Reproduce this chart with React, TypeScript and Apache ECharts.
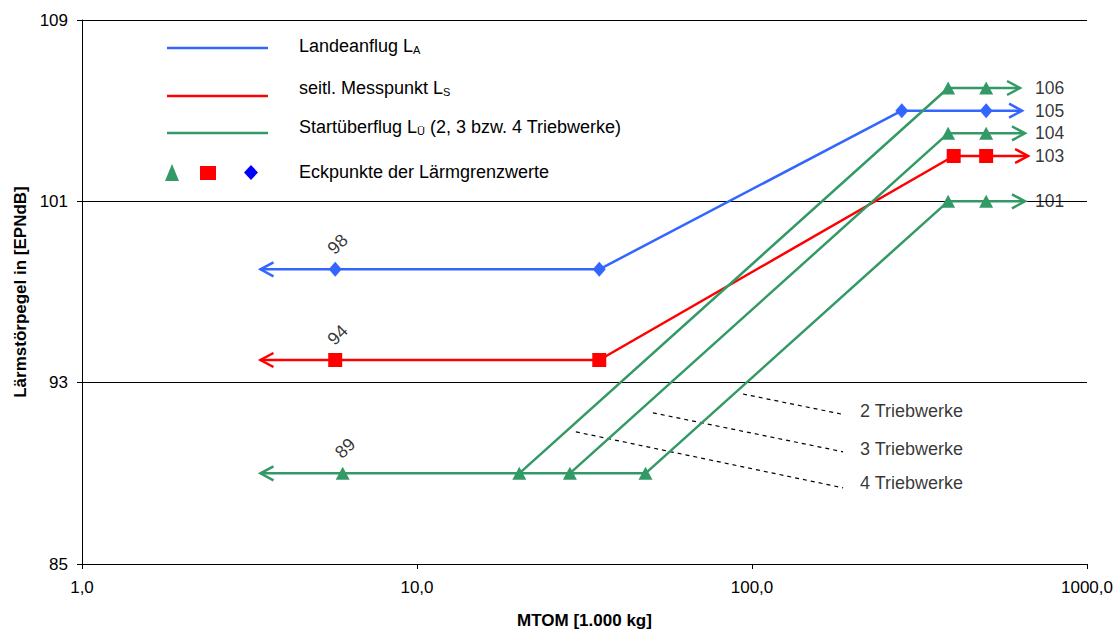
import React, { useEffect, useRef } from 'react';
import * as echarts from 'echarts';

const FONT = '"Liberation Sans", Arial, sans-serif';
const BLUE = '#3366FF';
const RED = '#FF0000';
const GREEN = '#339966';

const xTickMin = 1;
const xTickMax = 1000;
const yTicks = [85, 93, 101, 109];
const gridLevels = [93, 101, 109];

const landingLine = [[3.41, 98], [35, 98], [280, 105], [640, 105]];
const landingPoints = [[5.7, 98], [35, 98], [280, 105], [500, 105]];
const landingArrows = [[3.41, 98, -1], [640, 105, 1]];

const lateralLine = [[3.41, 94], [35, 94], [400, 103], [667, 103]];
const lateralPoints = [[5.7, 94], [35, 94], [400, 103], [500, 103]];
const lateralArrows = [[3.41, 94, -1], [667, 103, 1]];

const flyoverBase = [[3.41, 89], [48.1, 89]];
const flyover4 = [[20.2, 89], [385, 106], [631, 106]];
const flyover3 = [[28.6, 89], [385, 104], [653, 104]];
const flyover2 = [[48.1, 89], [385, 101], [653, 101]];
const flyoverPoints = [[6.0, 89], [20.2, 89], [28.6, 89], [48.1, 89], [385, 106], [500, 106], [385, 104], [500, 104], [385, 101], [500, 101]];
const flyoverArrows = [[3.41, 89, -1], [631, 106, 1], [653, 104, 1], [653, 101, 1]];

const lowLabels = [[5.7, 98], [5.7, 94], [6.0, 89]];
const highLabelX = 700;
const highLabels = [106, 105, 104, 103, 101];

const engineNames = ['2 Triebwerke', '3 Triebwerke', '4 Triebwerke'];
const engineLeaders = [
  [[94, 92.5], [187, 91.6]],
  [[50.6, 91.67], [187, 89.95]],
  [[29.8, 90.83], [187, 88.36]],
];
const engineLabelPos = [[210, 91.76], [210, 90.08], [210, 88.58]];

const arrowRender = (color: string) => (params: any, api: any) => {
  const p = api.coord([api.value(0), api.value(1)]);
  const d = api.value(2);
  return {
    type: 'polyline',
    shape: { points: [[p[0] - 13 * d, p[1] - 7], [p[0], p[1]], [p[0] - 13 * d, p[1] + 7]] },
    style: { stroke: color, lineWidth: 2.5, fill: 'none' },
  };
};

const lineSeries = (data: number[][], color: string, extra: any = {}) => ({
  type: 'line',
  data,
  symbol: 'none',
  lineStyle: { color, width: 2.5 },
  z: 3,
  silent: true,
  ...extra,
});

export default function App() {
  const ref = useRef<HTMLDivElement>(null);
  useEffect(() => {
    if (!ref.current) return;
    const chart = echarts.init(ref.current, null, { renderer: 'svg' });
    const sub = (main: string, s: string, rest = '') => ({
      text: `{a|${main}}{s|${s}}` + (rest ? `{a|${rest}}` : ''),
      rich: {
        a: { fontSize: 18, fontFamily: FONT, lineHeight: 22, verticalAlign: 'bottom', fill: '#000' },
        s: { fontSize: 11, fontFamily: FONT, lineHeight: 12, verticalAlign: 'bottom', fill: '#000' },
      },
    });
    const option: any = {
      animation: false,
      textStyle: { fontFamily: FONT },
      grid: { left: 82, right: 32, top: 20, bottom: 66, containLabel: false, outerBoundsMode: 'none' },
      xAxis: {
        type: 'log',
        logBase: 10,
        min: xTickMin,
        max: xTickMax,
        name: 'MTOM [1.000 kg]',
        nameLocation: 'middle',
        nameGap: 48,
        nameTextStyle: { fontSize: 17, fontWeight: 'bold', color: '#000', fontFamily: FONT },
        axisLine: { show: true, lineStyle: { color: '#000', width: 1 } },
        axisTick: { show: true, length: 5, lineStyle: { color: '#000' } },
        minorTick: { show: false },
        splitLine: { show: false },
        axisLabel: {
          margin: 15,
          fontSize: 17,
          color: '#000',
          fontFamily: FONT,
          formatter: (v: number) => v.toFixed(1).replace('.', ','),
        },
      },
      yAxis: {
        type: 'value',
        min: 85,
        max: 109,
        name: 'Lärmstörpegel in [EPNdB]',
        nameLocation: 'middle',
        nameGap: 50,
        nameTextStyle: { fontSize: 17, fontWeight: 'bold', color: '#000', fontFamily: FONT },
        axisLine: { show: true, lineStyle: { color: '#000', width: 1 } },
        axisTick: { show: true, length: 5, customValues: yTicks, lineStyle: { color: '#000' } },
        splitLine: { show: false },
        axisLabel: { margin: 14, fontSize: 17, color: '#000', fontFamily: FONT, customValues: yTicks },
      },
      graphic: [
        { type: 'line', shape: { x1: 167, y1: 48, x2: 268, y2: 48 }, style: { stroke: BLUE, lineWidth: 2.5 } },
        { type: 'line', shape: { x1: 167, y1: 96, x2: 268, y2: 96 }, style: { stroke: RED, lineWidth: 2.5 } },
        { type: 'line', shape: { x1: 167, y1: 133, x2: 268, y2: 133 }, style: { stroke: GREEN, lineWidth: 2.5 } },
        { type: 'polygon', shape: { points: [[165, 181], [179, 181], [172, 164]] }, style: { fill: GREEN } },
        { type: 'rect', shape: { x: 200, y: 166, width: 16, height: 14 }, style: { fill: RED } },
        { type: 'polygon', shape: { points: [[251, 165], [258, 172.5], [251, 180], [244, 172.5]] }, style: { fill: '#0000FF' } },
        { type: 'text', x: 299, y: 44, style: { ...sub('Landeanflug L', 'A'), verticalAlign: 'middle' } },
        { type: 'text', x: 299, y: 86, style: { ...sub('seitl. Messpunkt L', 'S'), verticalAlign: 'middle' } },
        { type: 'text', x: 299, y: 125, style: { ...sub('Startüberflug L', 'Ü', ' (2, 3 bzw. 4 Triebwerke)'), verticalAlign: 'middle' } },
        { type: 'text', x: 299, y: 172, style: { text: 'Eckpunkte der Lärmgrenzwerte', fontSize: 18, fontFamily: FONT, fill: '#000', verticalAlign: 'middle' } },
      ],
      series: [
        lineSeries(landingLine, BLUE, {
          markLine: {
            silent: true,
            symbol: 'none',
            label: { show: false },
            lineStyle: { color: '#000', width: 1, type: 'solid' },
            data: gridLevels.map((v) => ({ yAxis: v })),
            z: 1,
          },
        }),
        lineSeries(lateralLine, RED),
        lineSeries(flyoverBase, GREEN),
        lineSeries(flyover4, GREEN),
        lineSeries(flyover3, GREEN),
        lineSeries(flyover2, GREEN),
        ...engineLeaders.map((d) => ({
          type: 'line',
          data: d,
          symbol: 'none',
          silent: true,
          lineStyle: { color: '#000', width: 1.2, type: [4, 4] },
          z: 2,
        })),
        { type: 'custom', renderItem: arrowRender(BLUE), data: landingArrows, clip: false, z: 4, silent: true },
        { type: 'custom', renderItem: arrowRender(RED), data: lateralArrows, clip: false, z: 4, silent: true },
        { type: 'custom', renderItem: arrowRender(GREEN), data: flyoverArrows, clip: false, z: 4, silent: true },
        { type: 'scatter', data: landingPoints, symbol: 'diamond', symbolSize: [13, 15], itemStyle: { color: BLUE, opacity: 1 }, z: 5, silent: true },
        { type: 'scatter', data: lateralPoints, symbol: 'rect', symbolSize: 14, itemStyle: { color: RED, opacity: 1 }, z: 5, silent: true },
        { type: 'scatter', data: flyoverPoints, symbol: 'triangle', symbolSize: [14, 13], itemStyle: { color: GREEN, opacity: 1 }, z: 5, silent: true },
        {
          type: 'scatter',
          data: lowLabels,
          symbolSize: 0,
          silent: true,
          z: 6,
          label: {
            show: true,
            position: 'inside',
            offset: [19.5, -16],
            rotate: 45,
            fontSize: 18,
            color: '#000',
            fontFamily: FONT,
            formatter: (p: any) => String(p.value[1]),
          },
        },
        {
          type: 'scatter',
          data: highLabels.map((v) => [highLabelX, v]),
          symbolSize: 0,
          silent: true,
          z: 6,
          label: {
            show: true,
            position: 'inside',
            align: 'left',
            fontSize: 17.5,
            color: '#000',
            fontFamily: FONT,
            formatter: (p: any) => String(p.value[1]),
          },
        },
        {
          type: 'scatter',
          data: engineLabelPos.map((p, i) => ({ value: p, name: engineNames[i] })),
          symbolSize: 0,
          silent: true,
          z: 6,
          label: {
            show: true,
            position: 'inside',
            align: 'left',
            fontSize: 18,
            color: '#000',
            fontFamily: FONT,
            formatter: (p: any) => p.name,
          },
        },
      ],
    };
    chart.setOption(option);
    return () => chart.dispose();
  }, []);
  return <div ref={ref} style={{ position: 'fixed', left: 0, top: 0, width: 1119, height: 630, background: '#fff' }} />;
}
